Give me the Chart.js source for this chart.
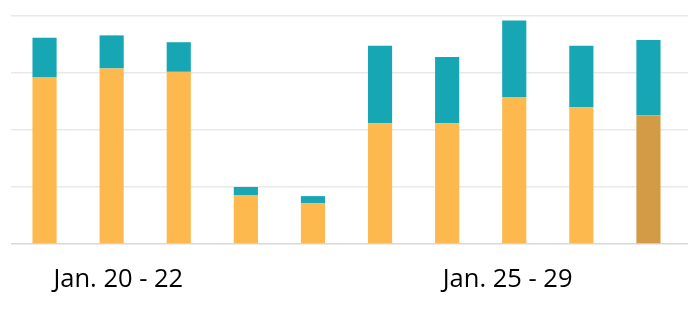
<!DOCTYPE html>
<html>
<head>
<meta charset="utf-8">
<script src="https://cdn.jsdelivr.net/npm/chart.js@4/dist/chart.umd.min.js"></script>
<style>
  html, body { margin: 0; padding: 0; background: #ffffff; }
  #wrap { width: 688px; height: 310px; position: relative; }
</style>
</head>
<body>
<div id="wrap"><canvas id="c"></canvas></div>
<script>
const categories = ["Jan. 20", "Jan. 21", "Jan. 22", "Jan. 23", "Jan. 24", "Jan. 25", "Jan. 26", "Jan. 27", "Jan. 28", "Jan. 29"];
const groupLabels = ["", "  Jan. 20 - 22", "", "", "", "", "", "Jan. 25 - 29  ", "", ""];
const lowerValues = [146, 154, 151, 43, 36, 106, 106, 129, 120, 113];
const upperValues = [35, 29, 26, 7, 6, 68, 58, 67, 54, 66];
const yTicks = [0, 50, 100, 150, 200];

const orange = '#FDB94D';
const orangeActive = '#D39B45';
const teal = '#17A6B4';
const lowerColors = lowerValues.map((v, i) => i === lowerValues.length - 1 ? orangeActive : orange);

new Chart(document.getElementById('c'), {
  type: 'bar',
  data: {
    labels: categories,
    datasets: [
      { label: 'A', data: lowerValues, backgroundColor: lowerColors, borderWidth: 0, barPercentage: 0.36, categoryPercentage: 1 },
      { label: 'B', data: upperValues, backgroundColor: teal, borderWidth: 0, barPercentage: 0.36, categoryPercentage: 1 }
    ]
  },
  options: {
    responsive: true,
    maintainAspectRatio: false,
    animation: false,
    layout: { padding: { left: 11, right: 0, top: 16, bottom: 0 } },
    plugins: { legend: { display: false }, tooltip: { enabled: false } },
    scales: {
      x: {
        stacked: true,
        afterFit: (axis) => { axis.height = 66; },
        grid: { display: false, drawTicks: false },
        border: { display: false },
        ticks: {
          autoSkip: false,
          maxRotation: 0,
          padding: 20,
          color: '#000000',
          font: { family: '"Open Sans"', size: 25.5 },
          callback: (v, i) => groupLabels[i]
        }
      },
      y: {
        stacked: true,
        position: 'right',
        min: yTicks[0],
        max: yTicks[yTicks.length - 1],
        afterBuildTicks: (axis) => { axis.ticks = yTicks.map(v => ({ value: v })); },
        grid: {
          drawTicks: true,
          tickLength: 6,
          lineWidth: 1.5,
          color: (ctx) => ctx.tick && ctx.tick.value === 0 ? '#D8D8D8' : '#E9E9E9'
        },
        border: { display: false },
        ticks: { display: false }
      }
    }
  }
});
</script>
</body>
</html>
